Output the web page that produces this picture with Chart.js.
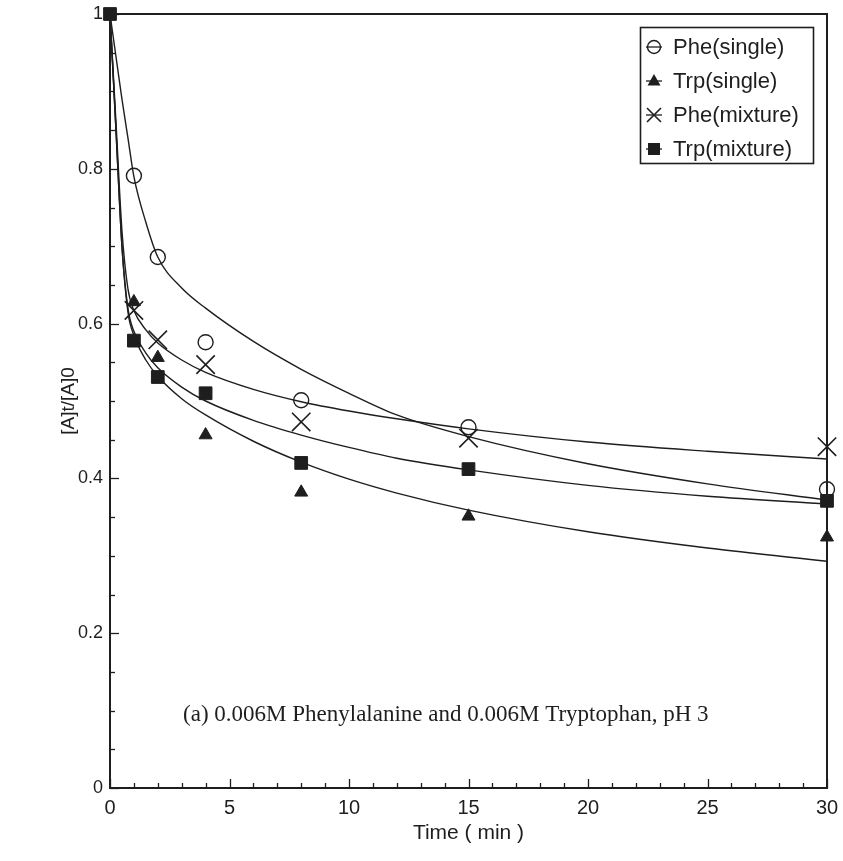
<!DOCTYPE html>
<html>
<head>
<meta charset="utf-8">
<script src="https://cdn.jsdelivr.net/npm/chart.js@4.4.1/dist/chart.umd.min.js"></script>
<style>
html,body{margin:0;padding:0;background:#fff;}
#wrap{width:843px;height:861px;position:relative;}
</style>
</head>
<body>
<div id="wrap"><canvas id="c" width="843" height="861"></canvas></div>
<script>
// ---- measured points ----
const timePoints = [0, 1, 2, 4, 8, 15, 30];
const pheSingle  = [1, 0.791, 0.686, 0.576, 0.501, 0.466, 0.386];
const trpSingle  = [1, 0.628, 0.556, 0.456, 0.382, 0.351, 0.324];
const pheMixture = [1, 0.617, 0.579, 0.547, 0.473, 0.452, 0.441];
const trpMixture = [1, 0.578, 0.531, 0.510, 0.420, 0.412, 0.371];

// ---- fitted curves ----
const fitTimes      = [0, 0.25, 0.5, 0.75, 1, 1.5, 2, 3, 4, 6, 8, 10, 12, 15, 20, 25, 30];
const pheSingleFit  = [1, 0.945, 0.89, 0.84, 0.79, 0.731, 0.686, 0.646, 0.620, 0.577, 0.541, 0.510, 0.482, 0.454, 0.419, 0.393, 0.372];
const trpSingleFit  = [1, 0.85, 0.70, 0.615, 0.585, 0.553, 0.532, 0.503, 0.482, 0.448, 0.421, 0.399, 0.381, 0.359, 0.331, 0.310, 0.293];
const pheMixtureFit = [1, 0.86, 0.72, 0.645, 0.617, 0.592, 0.575, 0.553, 0.537, 0.515, 0.499, 0.487, 0.477, 0.464, 0.447, 0.435, 0.425];
const trpMixtureFit = [1, 0.85, 0.70, 0.62, 0.59, 0.562, 0.543, 0.518, 0.500, 0.475, 0.456, 0.440, 0.426, 0.411, 0.391, 0.377, 0.367];

const seriesLabels = ['Phe(single)', 'Trp(single)', 'Phe(mixture)', 'Trp(mixture)'];
const xTickValues = [0, 5, 10, 15, 20, 25, 30];
const yTickValues = [0, 0.2, 0.4, 0.6, 0.8, 1];
const xTitle = 'Time ( min )';
const yTitle = '[A]t/[A]0';
const noteText = '(a) 0.006M Phenylalanine and 0.006M Tryptophan, pH 3';

const INK = '#1e1e1e';
const pts = (xs, ys) => xs.map((x, i) => ({x: x, y: ys[i]}));

function fitDs(ys) {
  return {type: 'line', data: pts(fitTimes, ys), borderColor: INK, borderWidth: 1.4,
    pointRadius: 0, cubicInterpolationMode: 'monotone', fill: false, clip: false, order: 5};
}
function markDs(label, ys, style, r, filled, bw, order) {
  // the t=0 start point is covered by the square in the original; only the square shows there
  const radius = (style === 'rect') ? r : (c => (c.parsed && c.parsed.x === 0) ? 0 : r);
  return {type: 'line', label: label, data: pts(timePoints, ys), showLine: false,
    pointStyle: style, pointRadius: radius, pointHoverRadius: radius,
    pointBackgroundColor: filled ? INK : 'rgba(0,0,0,0)', pointBorderColor: INK,
    pointBorderWidth: bw, clip: false, order: order};
}

const markerSpecs = [
  {style: 'circle', bw: 1.4},
  {style: 'triangle', bw: 1},
  {style: 'crossRot', bw: 1.6},
  {style: 'rect', bw: 1}
];

const extras = {
  id: 'extras',
  afterDraw(chart) {
    const ctx = chart.ctx, a = chart.chartArea;
    const xs = chart.scales.x, ys = chart.scales.y;
    ctx.save();
    ctx.strokeStyle = INK;
    ctx.lineWidth = 2;
    ctx.strokeRect(a.left, a.top, a.right - a.left, a.bottom - a.top);
    ctx.lineWidth = 1.3;
    // x ticks (inward)
    for (let v = 0; v <= 30; v += 1) {
      const px = Math.round(xs.getPixelForValue(v)) + 0.5;
      const len = (v % 5 === 0) ? 9 : 5;
      ctx.beginPath(); ctx.moveTo(px, a.bottom); ctx.lineTo(px, a.bottom - len); ctx.stroke();
    }
    // y ticks (inward)
    for (let k = 0; k <= 20; k++) {
      const v = k * 0.05;
      const py = Math.round(ys.getPixelForValue(v)) + 0.5;
      const len = (k % 4 === 0) ? 9 : 5;
      ctx.beginPath(); ctx.moveTo(a.left, py); ctx.lineTo(a.left + len, py); ctx.stroke();
    }
    // legend
    const bx = a.right - 187, by = a.top + 13, bw = 173, bh = 136;
    ctx.lineWidth = 1.6;
    ctx.strokeRect(bx + 0.5, by + 0.5, bw, bh);
    ctx.font = '22px "Liberation Sans", Arial, sans-serif';
    ctx.textBaseline = 'middle';
    ctx.fillStyle = INK;
    for (let i = 0; i < seriesLabels.length; i++) {
      const cy = by + 20 + i * 34;
      const cx = bx + 14;
      ctx.lineWidth = 1.3;
      ctx.beginPath(); ctx.moveTo(cx - 8, cy); ctx.lineTo(cx + 8, cy); ctx.stroke();
      const s = markerSpecs[i];
      ctx.lineWidth = s.bw;
      ctx.beginPath();
      if (s.style === 'circle') {
        ctx.arc(cx, cy, 6.5, 0, Math.PI * 2); ctx.stroke();
      } else if (s.style === 'triangle') {
        ctx.moveTo(cx, cy - 7); ctx.lineTo(cx + 6.5, cy + 4.5); ctx.lineTo(cx - 6.5, cy + 4.5); ctx.closePath(); ctx.fill();
      } else if (s.style === 'crossRot') {
        ctx.moveTo(cx - 7, cy - 7); ctx.lineTo(cx + 7, cy + 7); ctx.moveTo(cx + 7, cy - 7); ctx.lineTo(cx - 7, cy + 7); ctx.stroke();
      } else {
        ctx.rect(cx - 6, cy - 6, 12, 12); ctx.fill();
      }
      ctx.fillText(seriesLabels[i], bx + 33, cy + 1);
    }
    // note
    ctx.font = '23px "Liberation Serif", "Times New Roman", serif';
    ctx.textAlign = 'center';
    ctx.fillText(noteText, xs.getPixelForValue(14.05), ys.getPixelForValue(0.094));
    ctx.restore();
  }
};

const datasets = [
  fitDs(pheSingleFit), fitDs(trpSingleFit), fitDs(pheMixtureFit), fitDs(trpMixtureFit),
  markDs(seriesLabels[0], pheSingle, 'circle', 7.5, false, 1.4, 3),
  markDs(seriesLabels[1], trpSingle, 'triangle', 7.5, true, 1, 2),
  markDs(seriesLabels[2], pheMixture, 'crossRot', 13, false, 1.6, 1),
  markDs(seriesLabels[3], trpMixture, 'rect', 9, true, 1, 0)
];

new Chart(document.getElementById('c'), {
  type: 'line',
  data: {datasets: datasets},
  options: {
    responsive: false,
    animation: false,
    devicePixelRatio: 1,
    layout: {autoPadding: false, padding: {left: 0, right: 16, top: 14, bottom: 0}},
    plugins: {legend: {display: false}, tooltip: {enabled: false}},
    scales: {
      x: {
        type: 'linear', min: 0, max: 30,
        afterFit(s) { s.height = 73; s.paddingLeft = 0; s.paddingRight = 0; },
        afterBuildTicks(s) { s.ticks = xTickValues.map(v => ({value: v})); },
        grid: {display: false, drawTicks: false},
        border: {display: false},
        ticks: {color: INK, padding: 8, maxRotation: 0, callback: v => String(v),
          font: {family: '"Liberation Sans", Arial, sans-serif', size: 20}},
        title: {display: true, text: xTitle, color: INK, padding: {top: 0, bottom: 15},
          font: {family: '"Liberation Sans", Arial, sans-serif', size: 21}}
      },
      y: {
        type: 'linear', min: 0, max: 1,
        afterFit(s) { s.width = 110; s.paddingTop = 0; s.paddingBottom = 0; },
        afterBuildTicks(s) { s.ticks = yTickValues.map(v => ({value: v})); },
        grid: {display: false, drawTicks: false},
        border: {display: false},
        ticks: {color: INK, padding: 7, callback: v => String(v),
          font: {family: '"Liberation Sans", Arial, sans-serif', size: 18}},
        title: {display: true, text: yTitle, color: INK, padding: {top: 57, bottom: 0},
          font: {family: '"Liberation Sans", Arial, sans-serif', size: 19}}
      }
    }
  },
  plugins: [extras]
});
</script>
</body>
</html>
